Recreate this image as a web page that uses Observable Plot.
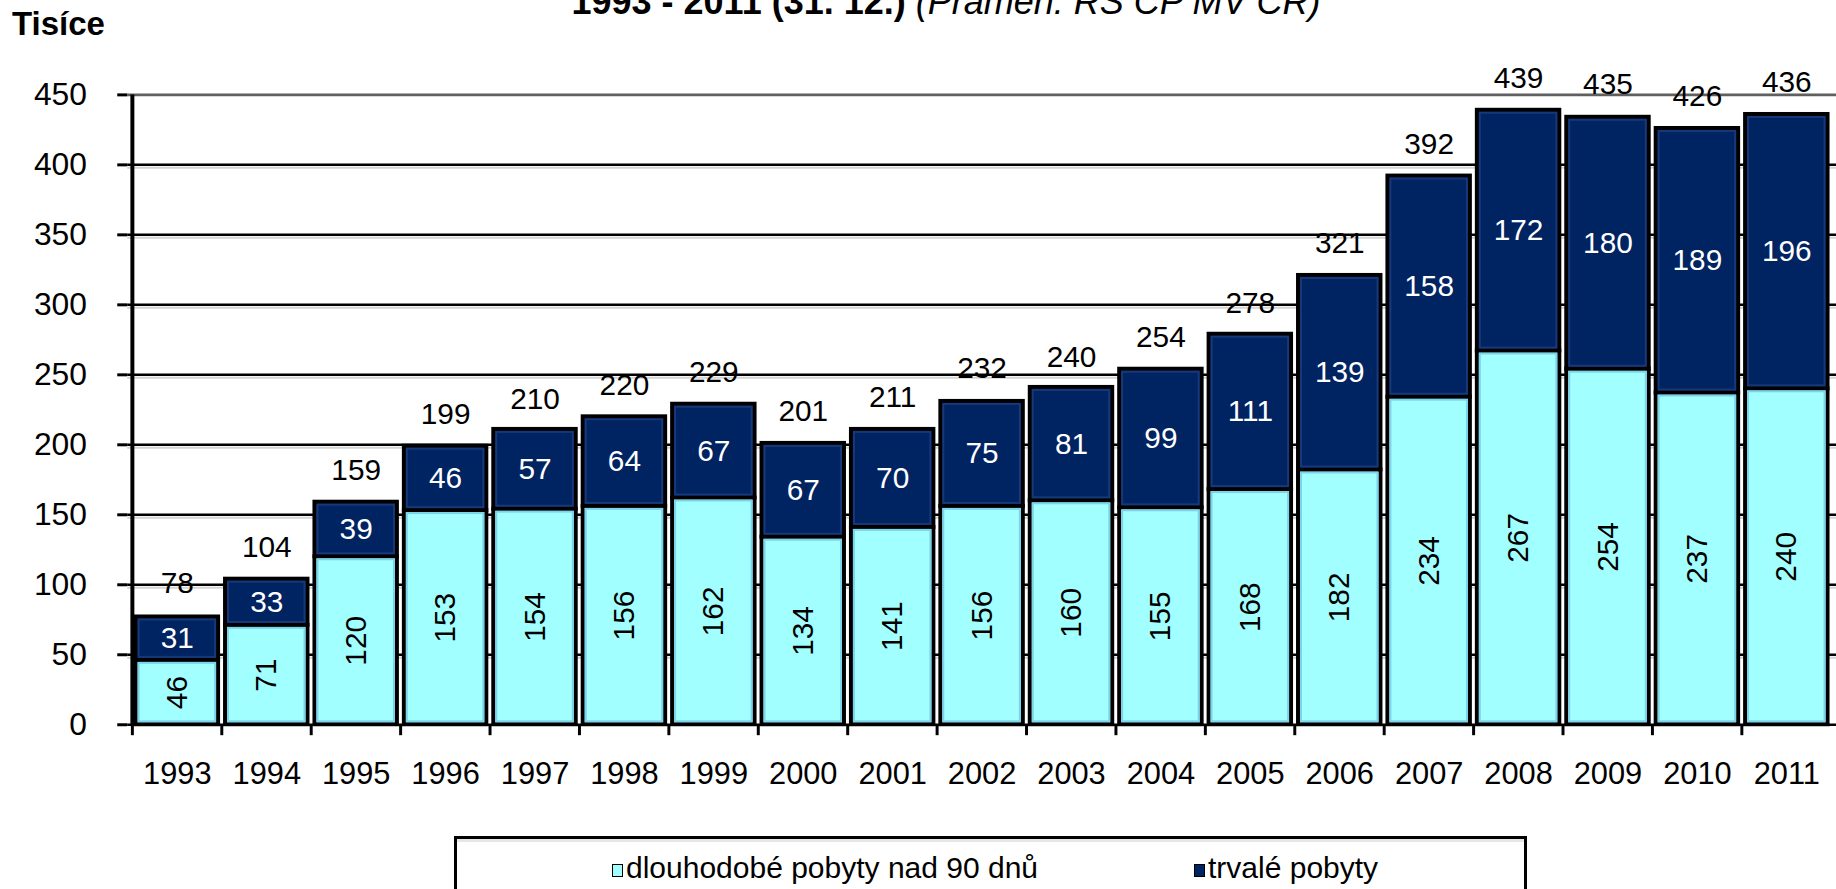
<!DOCTYPE html>
<html><head><meta charset="utf-8">
<script src="https://cdn.jsdelivr.net/npm/d3@7"></script>
<script src="https://cdn.jsdelivr.net/npm/@observablehq/plot@0.6"></script>
<style>
html,body{margin:0;padding:0;background:#fff;overflow:hidden;width:1836px;height:889px;position:relative;font-family:"Liberation Sans",Arial,sans-serif;color:#000;}
#chart{position:absolute;left:0;top:0;}
#title{position:absolute;left:0;width:1892px;text-align:center;top:-16px;font-size:36px;line-height:36px;white-space:nowrap;}
#title b{font-weight:bold;}
#title i{font-style:italic;}
#unit{position:absolute;left:12px;top:7px;font-size:33px;line-height:33px;font-weight:bold;}
#legend{position:absolute;left:454px;top:836px;width:1067px;height:100px;border:3px solid #000;box-shadow:inset 0 3px 0 #e6e6e6;}
.item{position:absolute;top:14px;font-size:30px;line-height:30px;white-space:nowrap;}
.sw{display:inline-block;width:9px;height:11px;border:1.5px solid #000;margin-right:3px;vertical-align:1px;}
</style></head>
<body>
<div id="title"><b>1993 - 2011 (31. 12.)</b> <i>(Pramen: ŘS ČP MV ČR)</i></div>
<div id="unit">Tisíce</div>
<div id="chart"></div>
<div id="legend"></div>
<script>
const years = ["1993","1994","1995","1996","1997","1998","1999","2000","2001","2002","2003","2004","2005","2006","2007","2008","2009","2010","2011"];
const longTerm = [46,71,120,153,154,156,162,134,141,156,160,155,168,182,234,267,254,237,240];
const permanent = [31,33,39,46,57,64,67,67,70,75,81,99,111,139,158,172,180,189,196];
const totals = [78,104,159,199,210,220,229,201,211,232,240,254,278,321,392,439,435,426,436];
const seriesNames = ["dlouhodobé pobyty nad 90 dnů","trvalé pobyty"];
const seriesColors = ["#a2ffff","#002361"];
const innerEdgeColors = ["#7dd3ea","#17397a"];
const yTicks = [0,50,100,150,200,250,300,350,400,450];

const W = 1848, H = 889, ML = 128, MR = 0, MT = 95, MB = 160;
const step = (W - ML - MR) / years.length;
const FONT = '"Liberation Sans", Arial, sans-serif';

const data = years.flatMap((yr, i) => [
  {year: yr, series: seriesNames[0], value: longTerm[i]},
  {year: yr, series: seriesNames[1], value: permanent[i]}
]);
const rows = years.map((yr, i) => ({year: yr, lt: longTerm[i], pm: permanent[i], total: totals[i]}));

const chart = Plot.plot({
  width: W, height: H,
  marginLeft: ML, marginRight: MR, marginTop: MT, marginBottom: MB,
  style: {fontFamily: FONT, background: "transparent", overflow: "visible", color: "#000"},
  x: {type: "band", domain: years, padding: 0, label: null},
  y: {domain: [0, 450], label: null},
  color: {domain: seriesNames, range: seriesColors},
  marks: [
    Plot.ruleY(yTicks.slice(1, -1), {stroke: "#d4d4d4", strokeWidth: 2, dy: 3}),
    Plot.ruleY(yTicks.slice(0, -1), {stroke: "#000", strokeWidth: 2.5}),
    Plot.ruleY([450], {stroke: "#5f5f5f", strokeWidth: 3}),
    Plot.barY(data, {x: "year", y: "value", fill: "series", stroke: "#000", strokeWidth: 4, insetLeft: 3.5, insetRight: 3.5}),
    Plot.barY(rows, {x: "year", y1: 0, y2: "lt", fill: "none", stroke: innerEdgeColors[0], strokeWidth: 2, insetLeft: 6.5, insetRight: 6.5, insetTop: 3, insetBottom: 3}),
    Plot.barY(rows, {x: "year", y1: "lt", y2: d => d.lt + d.pm, fill: "none", stroke: innerEdgeColors[1], strokeWidth: 2, insetLeft: 6.5, insetRight: 6.5, insetTop: 3, insetBottom: 3}),
    Plot.ruleX([years[0]], {y1: 0, y2: 450, dx: -step / 2, stroke: "#000", strokeWidth: 4}),
    Plot.axisY({ticks: yTicks, tickSize: 10, tickPadding: 31, fontSize: 32, strokeWidth: 3, tickFormat: d => String(d)}),
    Plot.axisX({tickSize: 11, tickPadding: 0, strokeWidth: 3, dx: -step / 2, tickFormat: () => ""}),
    Plot.axisX({tickSize: 0, tickPadding: 38, fontSize: 31}),
    Plot.text(rows, {x: "year", y: d => d.lt / 2, text: d => String(d.lt), rotate: -90, fill: "#000", fontSize: 30}),
    Plot.text(rows, {x: "year", y: d => d.lt + d.pm / 2, text: d => String(d.pm), fill: "#fff", fontSize: 30}),
    Plot.text(rows, {x: "year", y: "total", text: d => String(d.total), dy: -32, fill: "#000", fontSize: 30})
  ]
});
document.getElementById("chart").appendChild(chart);

const legend = document.getElementById("legend");
const positions = [155, 737];
seriesNames.forEach((name, i) => {
  const it = document.createElement("div");
  it.className = "item";
  it.style.left = positions[i] + "px";
  const sw = document.createElement("span");
  sw.className = "sw";
  sw.style.background = seriesColors[i];
  it.appendChild(sw);
  it.appendChild(document.createTextNode(name));
  legend.appendChild(it);
});
</script>
</body></html>
